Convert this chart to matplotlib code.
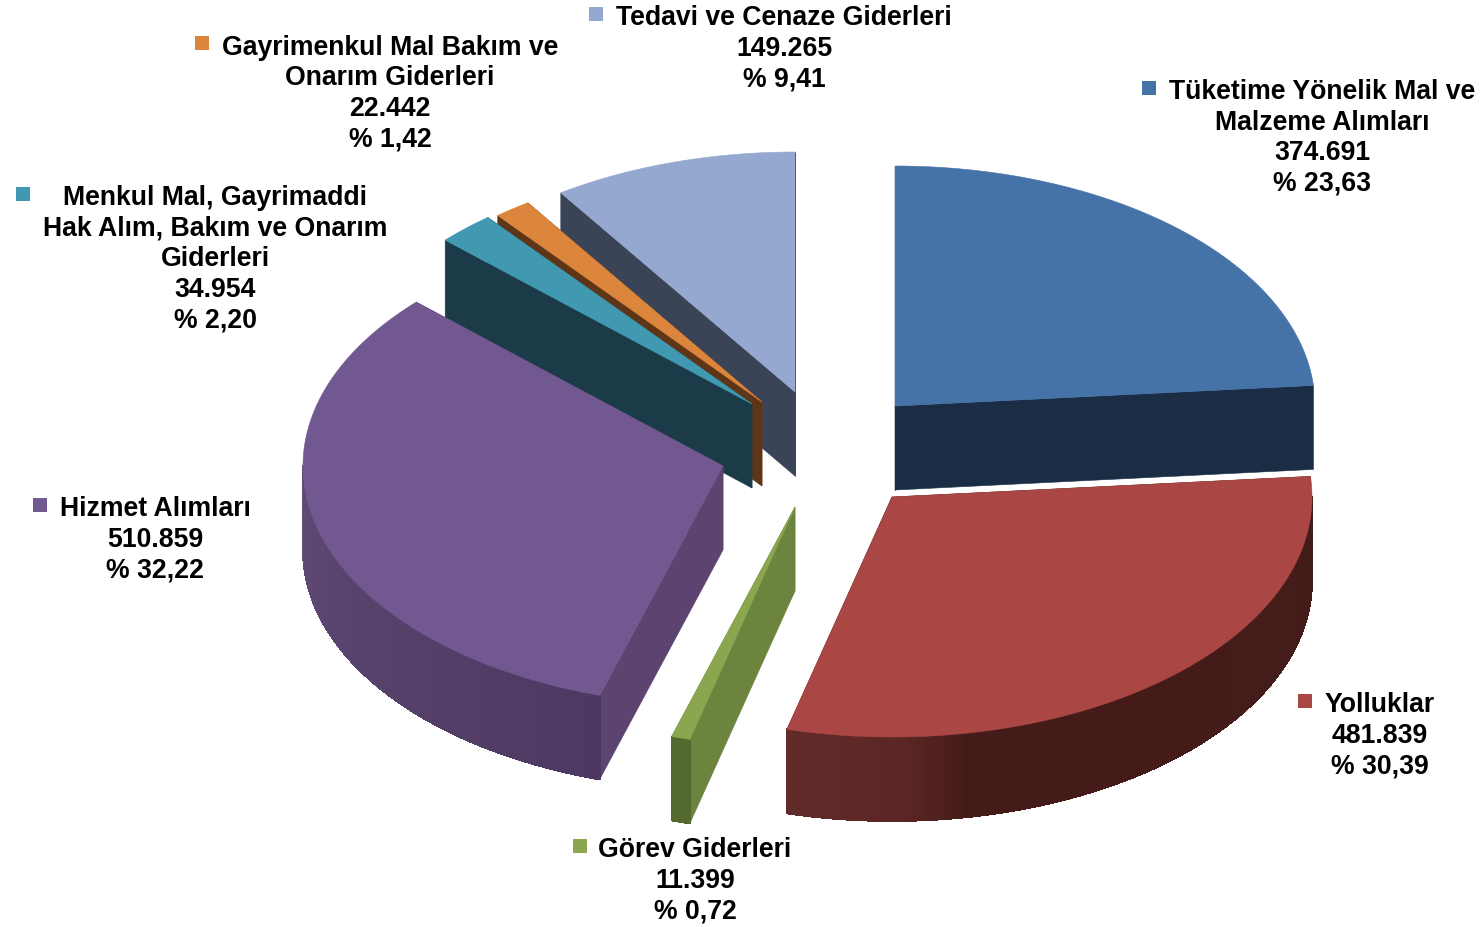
import numpy as np
import matplotlib
matplotlib.use("Agg")
import matplotlib.pyplot as plt
from matplotlib.patches import Polygon, Rectangle
from matplotlib.collections import PolyCollection
from matplotlib.colors import to_rgb

# ---- data ----
categories = [
    ["Tüketime Yönelik Mal ve", "Malzeme Alımları"],
    ["Yolluklar"],
    ["Görev Giderleri"],
    ["Hizmet Alımları"],
    ["Menkul Mal, Gayrimaddi", "Hak Alım, Bakım ve Onarım", "Giderleri"],
    ["Gayrimenkul Mal Bakım ve", "Onarım Giderleri"],
    ["Tedavi ve Cenaze Giderleri"],
]
values = [374691, 481839, 11399, 510859, 34954, 22442, 149265]
percents = [23.63, 30.39, 0.72, 32.22, 2.20, 1.42, 9.41]

# ---- style ----
top_colors = ["#4573a8", "#aa4644", "#8aa64e", "#725890", "#4199b1", "#dc853c", "#94a8d0"]
face_colors = ["#1b2d45", "#431c19", "#6d843e", "#5c4370", "#1a3b47", "#5e3617", "#3a4456"]
marker_colors = top_colors
rim_stops = [
    ([0, 360], ["#1b2d45", "#1b2d45"]),
    ([85, 170, 178, 194.5], ["#431c19", "#451b19", "#5a2624", "#612b29"]),
    ([194, 198], ["#53692f", "#53692f"]),
    ([197, 270], ["#4c3860", "#604a76"]),
    ([0, 360], ["#1a3b47", "#1a3b47"]),
    ([0, 360], ["#5e3617", "#5e3617"]),
    ([0, 360], ["#3a4456", "#3a4456"]),
]

# ---- layout (pixels) ----
W, H = 1483, 928
RX, RY, DEPTH = 420, 240, 84
apex = [(895, 407), (892, 498), (795, 508), (723, 467), (752, 405), (762, 403), (795, 393)]
draw_order = [0, 6, 5, 4, 3, 2, 1]
label_cx = [1322, 1380, 695, 155, 215, 390, 784]
label_y0 = [90, 703, 848, 507, 196, 45.6, 16]
marker_xy = [(1142, 82), (1298, 695), (573, 840), (33, 499), (16, 188), (195, 37), (589, 8)]
LINE_PITCH = 30.6
MARK = 14
FONT_SIZE = 19.2

fig = plt.figure(figsize=(W / 100, H / 100), dpi=100)
ax = fig.add_axes([0, 0, 1, 1])
ax.set_xlim(0, W)
ax.set_ylim(H, 0)
ax.axis("off")

fractions = np.array(values, dtype=float) / np.sum(values)
edges = np.concatenate([[0], np.cumsum(fractions) * 360])


def pt(i, deg, drop=0.0):
    t = np.radians(deg)
    return apex[i][0] + RX * np.sin(t), apex[i][1] - RY * np.cos(t) + drop


for i in draw_order:
    a0, a1 = edges[i], edges[i + 1]
    base_z = 2 + draw_order.index(i) * 3
    # cut faces
    for a in (a1, a0):
        x, y = pt(i, a)
        ax.add_patch(Polygon([apex[i], (x, y), (x, y + DEPTH),
                              (apex[i][0], apex[i][1] + DEPTH)],
                             closed=True, fc=face_colors[i], ec=face_colors[i], lw=0.4, zorder=base_z))
    # outer rim, shaded along the angle
    lo, hi = max(a0, 90), min(a1, 270)
    if hi > lo:
        ang = np.linspace(lo, hi, max(int((hi - lo) * 1.5), 2) + 1)
        stops_a, stops_c = rim_stops[i]
        rgb = np.array([to_rgb(c) for c in stops_c])
        # opaque smooth silhouette under the shaded strips
        outline = [pt(i, a) for a in ang] + [pt(i, a, DEPTH) for a in ang[::-1]]
        mid = [np.interp((lo + hi) / 2, stops_a, rgb[:, k]) for k in range(3)]
        ax.add_patch(Polygon(outline, closed=True, fc=mid, ec=mid, lw=0.4, zorder=base_z + 0.5))
        quads, cols = [], []
        for p, q in zip(ang[:-1], ang[1:]):
            xp, yp = pt(i, p)
            xq, yq = pt(i, q)
            quads.append([(xp, yp), (xq, yq), (xq, yq + DEPTH), (xp, yp + DEPTH)])
            m = (p + q) / 2
            cols.append([np.interp(m, stops_a, rgb[:, k]) for k in range(3)])
        ax.add_collection(PolyCollection(quads, facecolors=cols, edgecolors=cols, linewidths=0.6,
                                         antialiaseds=False, zorder=base_z + 1))
    # top surface
    ang = np.linspace(a0, a1, max(int(a1 - a0) * 2, 4))
    ring = [pt(i, a) for a in ang]
    ax.add_patch(Polygon([apex[i]] + ring, closed=True, fc=top_colors[i], ec=top_colors[i], lw=0.4,
                         zorder=base_z + 2))

# labels
for i, lines in enumerate(categories):
    value_txt = f"{values[i]:,}".replace(",", ".")
    pct_txt = "% " + f"{percents[i]:.2f}".replace(".", ",")
    for j, line in enumerate(lines + [value_txt, pct_txt]):
        ax.text(label_cx[i], label_y0[i] + 9 + j * LINE_PITCH, line, ha="center", va="baseline",
                fontsize=FONT_SIZE, fontweight="bold", family="Liberation Sans", color="black", zorder=50)
    mx, my = marker_xy[i]
    ax.add_patch(Rectangle((mx, my), MARK, MARK, fc=marker_colors[i], ec="none", zorder=50))

fig.savefig("out.png", dpi=100, facecolor="white")
